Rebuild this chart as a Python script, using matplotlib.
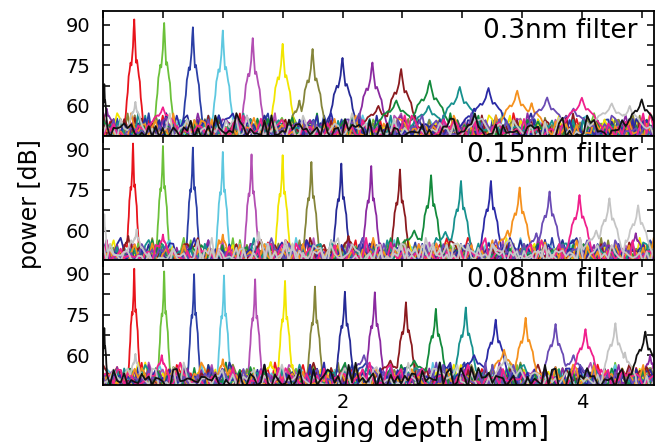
import numpy as np
import matplotlib
matplotlib.use("Agg")
import matplotlib.pyplot as plt
from matplotlib.ticker import MultipleLocator

plt.rcParams['font.family'] = ['DejaVu Sans']

# ---- data ----
colors = ['#e8141c', '#6cc13a', '#2b3fa6', '#5ec8e0', '#b34fb3', '#f2e600',
          '#85853a', '#262a96', '#8a2aa0', '#8b1a1e', '#138a3c', '#17918e',
          '#2a2aa6', '#f5911e', '#6a4bb4', '#f0208c', '#c4c4c4', '#111111']
colors_mid_last = '#c8c8c8'

labels = ['0.3nm filter', '0.15nm filter', '0.08nm filter']

centers_top = [0.26, 0.51, 0.75, 1.00, 1.25, 1.50, 1.75, 2.00, 2.25, 2.49,
               2.73, 2.98, 3.22, 3.46, 3.71, 4.00, 4.25, 4.50]
heights_top = [91.9, 90.6, 89.0, 87.8, 85.0, 82.9, 81.0, 77.7, 76.0, 73.6,
               69.3, 67.0, 66.6, 65.6, 63.1, 63.0, 60.9, 62.4]
widths_top = [0.026, 0.027, 0.028, 0.030, 0.032, 0.034, 0.036, 0.040, 0.042, 0.046,
              0.058, 0.058, 0.058, 0.052, 0.056, 0.056, 0.062, 0.045]

centers_mid = [0.25, 0.50, 0.75, 1.00, 1.24, 1.50, 1.74, 1.99, 2.24, 2.48,
               2.74, 2.99, 3.24, 3.48, 3.73, 3.98, 4.23, 4.47]
heights_mid = [92.1, 91.2, 90.6, 89.0, 88.1, 87.8, 85.3, 84.7, 83.8, 82.5,
               80.4, 78.3, 78.3, 75.9, 74.4, 73.1, 71.9, 69.3]
widths_mid = [0.017, 0.018, 0.018, 0.019, 0.020, 0.021, 0.022, 0.023, 0.024, 0.025,
              0.030, 0.030, 0.030, 0.034, 0.034, 0.035, 0.036, 0.037]

centers_bot = [0.26, 0.51, 0.76, 1.01, 1.27, 1.52, 1.77, 2.02, 2.27, 2.53,
               2.78, 3.03, 3.28, 3.53, 3.78, 4.03, 4.28, 4.53]
heights_bot = [91.9, 90.9, 89.9, 89.4, 88.0, 87.4, 85.3, 83.4, 83.2, 79.5,
               77.1, 77.6, 73.1, 73.8, 71.5, 69.6, 71.8, 68.7]
widths_bot = [0.016, 0.017, 0.017, 0.018, 0.019, 0.020, 0.021, 0.024, 0.025, 0.027,
              0.029, 0.031, 0.035, 0.033, 0.035, 0.037, 0.035, 0.040]

# secondary bumps: (trace index, centre, height, width)
extras_top = [(16, 0.27, 61.5, 0.02), (15, 0.50, 59.5, 0.04), (8, 0.03, 59.0, 0.02),
              (17, 0.01, 68.0, 0.008), (6, 1.64, 62.0, 0.03), (10, 2.45, 62.0, 0.06),
              (11, 2.72, 60.0, 0.05), (13, 3.58, 61.0, 0.04), (14, 3.93, 59.0, 0.05),
              (16, 4.40, 60.0, 0.04), (9, 2.30, 60.0, 0.05), (12, 3.10, 59.0, 0.04)]
extras_mid = [(16, 0.28, 60.5, 0.015), (9, 0.21, 58.0, 0.015), (13, 1.00, 58.5, 0.015),
              (17, 1.30, 59.5, 0.015), (15, 0.50, 58.5, 0.015), (9, 2.05, 58.0, 0.02),
              (10, 2.60, 60.0, 0.05), (11, 2.86, 59.5, 0.05), (13, 3.38, 60.0, 0.04),
              (14, 3.62, 59.0, 0.03), (16, 4.12, 60.0, 0.04), (8, 4.45, 59.0, 0.02),
              (17, 0.01, 66.0, 0.008)]
extras_bot = [(16, 0.27, 60.5, 0.015), (15, 0.49, 60.0, 0.02), (13, 1.00, 58.5, 0.015),
              (5, 1.40, 57.5, 0.02), (14, 2.18, 60.0, 0.04), (9, 2.40, 58.0, 0.04),
              (10, 2.60, 58.0, 0.05), (12, 3.10, 60.0, 0.05), (13, 3.35, 62.0, 0.04),
              (16, 3.36, 59.5, 0.03), (14, 3.93, 60.0, 0.04), (15, 4.08, 58.0, 0.03),
              (16, 4.36, 61.0, 0.03), (8, 4.57, 60.0, 0.02), (17, 0.01, 70.0, 0.008)]

# peak profile: offsets in units of width, dB relative to a 40 dB tall peak
prof_dx = [-3.0, -2.7, -2.4, -2.1, -1.8, -1.5, -1.2, -0.9, -0.6, -0.4, -0.2, 0.0,
           0.2, 0.4, 0.6, 0.9, 1.2, 1.5, 1.8, 2.1, 2.4, 2.7, 3.0]
prof_db = [-38, -35, -30, -27, -21, -19, -16, -17, -13, -10, -4, 0,
           -6, -11, -16, -15, -18, -21, -23, -29, -32, -36, -39]

noise = [52.1, 49.4, 54.2, 48.3, 51.8, 53.6, 47.9, 50.7, 55.6, 49.2, 48.8, 52.3, 50.1, 54.7,
         48.4, 51.3, 49.9, 56.4, 50.6, 48.1, 53.9, 51.0, 49.5, 52.3, 47.8, 50.4, 53.1, 48.9,
         55.0, 51.6, 49.1, 50.9, 54.5, 48.6, 51.9, 49.7, 53.7, 48.2, 50.3, 57.2, 49.0, 51.4,
         53.0, 48.5, 50.7, 52.4, 49.3, 47.7, 51.8, 54.9, 50.0, 48.7, 52.2, 49.6, 55.3, 50.5,
         48.0, 51.5, 53.1, 49.8, 52.0, 48.4, 50.2, 54.6, 51.2, 49.1, 47.9, 52.8, 50.6, 48.8,
         53.4, 51.0, 49.4, 56.5, 50.1, 48.3, 52.5, 51.7, 49.9, 54.8, 48.6, 50.9, 52.3, 49.2,
         47.8, 51.6, 55.0, 50.4, 48.9, 52.6, 49.5, 53.2, 51.1, 48.2, 50.8, 52.9, 49.7, 55.1,
         50.3, 48.5, 51.9, 53.3, 49.0, 50.6, 52.1, 48.7, 51.4, 54.7, 49.8, 47.6, 50.0, 52.7,
         51.3, 48.1, 53.0, 50.7, 49.3, 57.3, 51.8, 48.4, 52.2, 49.6, 50.5, 53.5, 48.8, 51.0,
         52.4, 49.1, 47.9, 50.2, 54.9, 51.5, 48.6, 52.0, 49.9, 55.2, 50.9, 48.3, 51.7, 53.1,
         49.4, 50.1, 52.8, 48.0, 51.2, 54.6, 49.7, 50.8, 52.5, 48.5, 51.6, 56.4, 49.2, 50.4,
         53.3, 48.9, 51.9, 52.2]

x_ticks = [2, 4]
y_ticks = [60, 75, 90]

panels = [(centers_top, heights_top, widths_top, extras_top),
          (centers_mid, heights_mid, widths_mid, extras_mid),
          (centers_bot, heights_bot, widths_bot, extras_bot)]

steps = [1, 3, 7, 9, 11, 13, 17, 19, 21, 23, 27, 29, 31, 33, 37, 39, 41, 43]

# ---- figure ----
fig = plt.figure(figsize=(6.61, 4.42), dpi=100)
gs = fig.add_gridspec(3, 1, left=0.156, right=0.989, top=0.975, bottom=0.129, hspace=0)
axes = [fig.add_subplot(gs[i, 0]) for i in range(3)]

noise_arr = np.array(noise)
N = len(noise_arr)
xg = np.linspace(0, 4.6, N)
pdx = np.array(prof_dx)
pdb = np.array(prof_db)
floor = 52.0


def trace(nz, peaks):
    """Combine the noise floor and peak shapes: upper envelope of all pieces."""
    pieces = [(xg, nz)]
    for (c, h, w) in peaks:
        px = c + w * pdx
        py = floor + (h - floor) * (1 + pdb / 40.0)
        pieces.append((px, py))
    xs = np.unique(np.concatenate([p[0] for p in pieces]))
    ys = np.full_like(xs, -np.inf)
    for (px, py) in pieces:
        inside = (xs >= px[0]) & (xs <= px[-1])
        ys[inside] = np.maximum(ys[inside], np.interp(xs[inside], px, py))
    return xs, ys


for p, (ax, (cs, hs, ws, ex)) in enumerate(zip(axes, panels)):
    n = len(cs)
    for i in range(n):
        c = colors[i]
        if p == 1 and i == n - 1:
            c = colors_mid_last
        k = np.arange(N)
        nz = noise_arr[(k * steps[(i + 5 * p) % len(steps)] + 13 * i + 29 * p) % N]
        peaks = [(cs[i], hs[i], ws[i])] + [(ec, eh, ew) for (ti, ec, eh, ew) in ex if ti == i]
        x, y = trace(nz, peaks)
        ax.plot(x, y, color=c, lw=1.3, solid_joinstyle='round')

    ax.set_xlim(0, 4.6)
    ax.set_ylim(49, 95)
    ax.set_yticks(y_ticks)
    ax.yaxis.set_minor_locator(MultipleLocator(7.5))
    ax.set_xticks(x_ticks)
    ax.xaxis.set_minor_locator(MultipleLocator(0.5))
    ax.tick_params(which='both', direction='in', top=True, right=True,
                   width=1.1, length=5, labelsize=14, pad=9)
    for s in ax.spines.values():
        s.set_linewidth(1.3)
    ax.text(0.971, 0.785, labels[p], transform=ax.transAxes, ha='right', va='baseline',
            fontsize=19)
    if p < 2:
        ax.tick_params(labelbottom=False)

axes[2].tick_params(axis='x', labelsize=14, pad=6)
fig.text(0.613, 0.011, 'imaging depth [mm]', ha='center', va='baseline', fontsize=20)
fig.text(0.045, 0.538, 'power [dB]', rotation=90, ha='center', va='center', fontsize=17)

fig.savefig('out.png', dpi=100)
